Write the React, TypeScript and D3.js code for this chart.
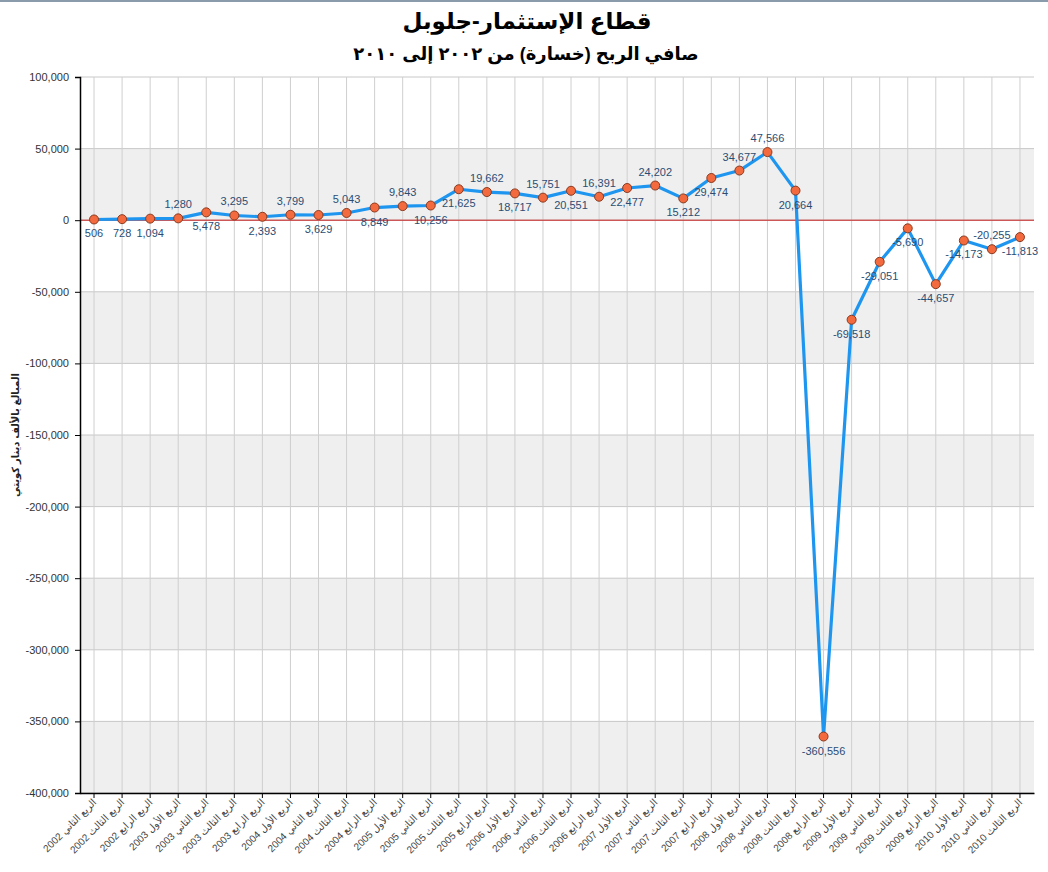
import { useEffect, useRef } from 'react';
import * as d3 from 'd3';

const W = 1048;
const H = 872;
const M = { top: 77, right: 14, bottom: 79, left: 80 };

const YEARS = ['2002', '2002', '2002', '2003', '2003', '2003', '2003', '2004', '2004', '2004', '2004',
  '2005', '2005', '2005', '2005', '2006', '2006', '2006', '2006', '2007', '2007', '2007', '2007',
  '2008', '2008', '2008', '2008', '2009', '2009', '2009', '2009', '2010', '2010', '2010'];
const QUARTERS = ['الثاني', 'الثالث', 'الرابع', 'الأول', 'الثاني', 'الثالث', 'الرابع', 'الأول', 'الثاني', 'الثالث', 'الرابع',
  'الأول', 'الثاني', 'الثالث', 'الرابع', 'الأول', 'الثاني', 'الثالث', 'الرابع', 'الأول', 'الثاني', 'الثالث', 'الرابع',
  'الأول', 'الثاني', 'الثالث', 'الرابع', 'الأول', 'الثاني', 'الثالث', 'الرابع', 'الأول', 'الثاني', 'الثالث'];
const VALUES = [506, 728, 1094, 1280, 5478, 3295, 2393, 3799, 3629, 5043, 8849, 9843, 10256, 21625,
  19662, 18717, 15751, 20551, 16391, 22477, 24202, 15212, 29474, 34677, 47566, 20664,
  -360556, -69518, -29051, -5690, -44657, -14173, -20255, -11813];
// a = label above point, b = below
const LABEL_POS = ['b', 'b', 'b', 'a', 'b', 'a', 'b', 'a', 'b', 'a', 'b', 'a', 'b', 'b', 'a', 'b', 'a',
  'b', 'a', 'b', 'a', 'b', 'b', 'a', 'a', 'b', 'b', 'b', 'b', 'b', 'b', 'b', 'a', 'b'];
const Y_TICKS = [100000, 50000, 0, -50000, -100000, -150000, -200000, -250000, -300000, -350000, -400000];

const FONT = 'Arial, "Liberation Sans", "DejaVu Sans", sans-serif';
const fmt = d3.formatLocale({ decimal: '.', thousands: ',', grouping: [3], currency: ['', ''], minus: '-' }).format(',');

export default function App() {
  const svgRef = useRef<SVGSVGElement>(null);

  useEffect(() => {
    if (!svgRef.current) return;
    document.body.style.margin = '0';
    const svg = d3.select(svgRef.current);
    svg.selectAll('*').remove();

    const innerW = W - M.left - M.right;
    const innerH = H - M.top - M.bottom;
    const cats = VALUES.map((_, i) => `${QUARTERS[i]}|${YEARS[i]}|${i}`);

    const x = d3.scaleBand().domain(cats).range([0, innerW]);
    const y = d3.scaleLinear().domain([-400000, 100000]).range([innerH, 0]);
    const cx = (i: number) => (x(cats[i]) ?? 0) + x.bandwidth() / 2;

    svg.append('rect').attr('width', W).attr('height', H).attr('fill', '#fff');
    svg.append('rect').attr('width', W).attr('height', 2).attr('fill', '#8a9bab');

    // ── Titles ─────────────────────────────────────────
    svg.append('text')
      .attr('x', W / 2 + 3).attr('y', 29)
      .attr('text-anchor', 'middle')
      .attr('font-family', FONT).attr('font-weight', 'bold').attr('font-size', 23)
      .text('قطاع الإستثمار-جلوبل');
    svg.append('text')
      .attr('x', W / 2 + 2).attr('y', 60)
      .attr('text-anchor', 'middle')
      .attr('font-family', FONT).attr('font-weight', 'bold').attr('font-size', 18)
      .text('صافي الربح (خسارة) من ٢٠٠٢ إلى ٢٠١٠');

    const g = svg.append('g').attr('transform', `translate(${M.left},${M.top})`);

    // ── Alternating bands ──────────────────────────────
    for (let k = 0; k < Y_TICKS.length - 1; k++) {
      if (k % 2 === 1) {
        const top = y(Y_TICKS[k]);
        const bot = y(Y_TICKS[k + 1]);
        g.append('rect')
          .attr('x', 0).attr('y', top)
          .attr('width', innerW).attr('height', bot - top)
          .attr('fill', '#efefef');
      }
    }

    // ── Grid ───────────────────────────────────────────
    Y_TICKS.forEach(t => {
      g.append('line')
        .attr('x1', 0).attr('x2', innerW)
        .attr('y1', y(t)).attr('y2', y(t))
        .attr('stroke', '#c8c8c8').attr('stroke-width', 1);
    });
    cats.forEach((_, i) => {
      g.append('line')
        .attr('x1', cx(i)).attr('x2', cx(i))
        .attr('y1', 0).attr('y2', innerH)
        .attr('stroke', '#cfcfcf').attr('stroke-width', 1);
    });

    // zero line
    g.append('line')
      .attr('x1', 0).attr('x2', innerW)
      .attr('y1', y(0)).attr('y2', y(0))
      .attr('stroke', '#c81e1e').attr('stroke-width', 1);

    // ── Axes ───────────────────────────────────────────
    const yAxis = d3.axisLeft(y)
      .tickValues(Y_TICKS)
      .tickSize(5)
      .tickFormat(d => fmt(d as number));
    g.append('g').call(yAxis).call(a => {
      a.select('.domain').attr('stroke', '#000').attr('stroke-width', 1.5);
      a.selectAll('.tick line').attr('stroke', '#000');
      a.selectAll('text').attr('fill', '#333').attr('font-size', 11).attr('font-family', FONT).attr('dx', -3);
    });

    const xAxis = d3.axisBottom(x).tickSize(5).tickSizeOuter(0).tickFormat(() => '');
    g.append('g').attr('transform', `translate(0,${innerH})`).call(xAxis).call(a => {
      a.select('.domain').attr('stroke', '#000').attr('stroke-width', 1.5);
      a.selectAll('.tick line').attr('stroke', '#000');
    });

    cats.forEach((_, i) => {
      g.append('text')
        .attr('transform', `translate(${cx(i) + 3},${innerH + 10}) rotate(-45)`)
        .attr('text-anchor', 'end')
        .attr('font-family', FONT).attr('font-size', 10)
        .attr('fill', '#444')
        .text(`الربع ${QUARTERS[i]} ${YEARS[i]}`);
    });

    // y title
    svg.append('text')
      .attr('transform', `translate(${19},${435}) rotate(-90)`)
      .attr('text-anchor', 'middle')
      .attr('font-family', FONT).attr('font-size', 10).attr('font-weight', 'bold')
      .attr('fill', '#222')
      .text('المبالغ بالألف دينار كويتي');

    // ── Line ───────────────────────────────────────────
    const line = d3.line<number>()
      .x((_, i) => cx(i))
      .y(d => y(d));
    g.append('path')
      .datum(VALUES)
      .attr('d', line)
      .attr('fill', 'none')
      .attr('stroke', '#1e96f0')
      .attr('stroke-width', 3.2)
      .attr('stroke-linejoin', 'round');

    VALUES.forEach((v, i) => {
      g.append('circle')
        .attr('cx', cx(i)).attr('cy', y(v))
        .attr('r', 4.5)
        .attr('fill', '#f26a3e')
        .attr('stroke', '#8a3a20').attr('stroke-width', 1);
    });

    VALUES.forEach((v, i) => {
      const above = LABEL_POS[i] === 'a';
      g.append('text')
        .attr('x', cx(i)).attr('y', y(v) + (above ? -10 : 18))
        .attr('text-anchor', 'middle')
        .attr('font-family', FONT).attr('font-size', 11)
        .attr('fill', '#2b4d74')
        .text(fmt(v));
    });
  }, []);

  return (
    <div style={{ position: 'absolute', left: 0, top: 0 }}>
      <svg ref={svgRef} width={W} height={H} style={{ display: 'block' }} />
    </div>
  );
}
